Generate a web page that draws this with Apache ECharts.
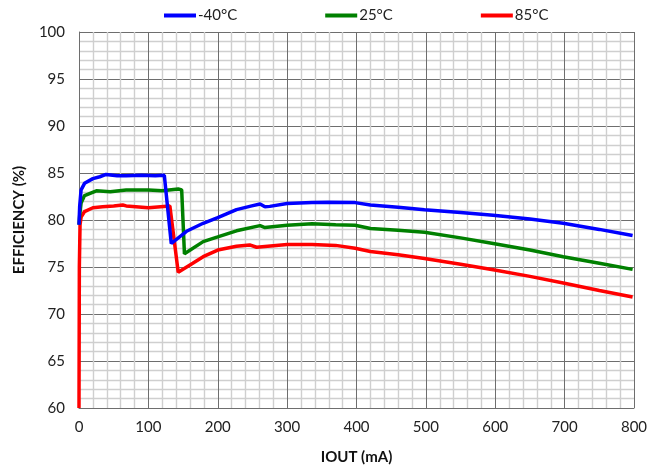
<!DOCTYPE html>
<html>
<head>
<meta charset="utf-8">
<script src="https://cdn.jsdelivr.net/npm/echarts@6/dist/echarts.min.js"></script>
<style>html,body{margin:0;padding:0;background:#fff}#c{width:659px;height:472px}</style>
</head>
<body>
<div id="c"></div>
<script>
var seriesNames = ['-40°C', '25°C', '85°C'];
var xTicks = [0, 100, 200, 300, 400, 500, 600, 700, 800];
var yTicks = [60, 65, 70, 75, 80, 85, 90, 95, 100];

var xBlue = [0, 1, 3, 8, 20, 30, 39, 55, 68, 90, 110, 123, 133, 155, 179, 200, 227, 249, 261, 268, 275, 300, 336, 359, 398, 420, 460, 498, 550, 597, 650, 698, 750, 798];
var yBlue = [79.5, 81.5, 83.2, 83.9, 84.4, 84.6, 84.85, 84.7, 84.7, 84.75, 84.7, 84.75, 77.5, 78.8, 79.65, 80.25, 81.1, 81.5, 81.7, 81.4, 81.45, 81.75, 81.85, 81.9, 81.85, 81.6, 81.35, 81.1, 80.8, 80.5, 80.1, 79.65, 79.0, 78.35];

var xGreen = [0, 1, 3, 8, 25, 45, 68, 100, 120, 143, 148, 152, 179, 200, 227, 261, 268, 300, 336, 370, 398, 420, 460, 498, 550, 597, 650, 698, 750, 798];
var yGreen = [79.5, 80.5, 81.8, 82.6, 83.1, 83.0, 83.2, 83.2, 83.1, 83.3, 83.2, 76.4, 77.7, 78.2, 78.85, 79.4, 79.2, 79.45, 79.6, 79.5, 79.45, 79.1, 78.9, 78.7, 78.1, 77.5, 76.8, 76.1, 75.4, 74.75];

var xRed = [0, 0.5, 1.5, 3, 8, 20, 34, 50, 63, 68, 70, 100, 131, 133, 143, 164, 179, 200, 227, 246, 256, 300, 336, 370, 398, 420, 460, 498, 550, 597, 650, 698, 750, 798];
var yRed = [60, 75, 79.5, 80.3, 80.9, 81.3, 81.4, 81.5, 81.6, 81.5, 81.3, 81.3, 81.5, 81.4, 74.45, 75.4, 76.1, 76.8, 77.2, 77.35, 77.1, 77.4, 77.4, 77.3, 77.0, 76.65, 76.3, 75.9, 75.3, 74.7, 74.0, 73.3, 72.5, 71.8];

var colors = ['#0000ff', '#008000', '#ff0000'];

function pairs(xs, ys) { return xs.map(function (x, i) { return [x, ys[i]]; }); }
var datasets = [pairs(xBlue, yBlue), pairs(xGreen, yGreen), pairs(xRed, yRed)];

var font = 'Lato, "Open Sans", sans-serif';
var chart = echarts.init(document.getElementById('c'));
chart.setOption({
  animation: false,
  backgroundColor: '#fff',
  textStyle: { fontFamily: font },
  legend: {
    top: 3,
    left: 159,
    itemGap: 88,
    itemWidth: 32,
    itemHeight: 4,
    icon: 'rect',
    textStyle: { fontSize: 15, color: '#222', fontFamily: font, padding: [0, 0, 0, -3] },
    data: seriesNames
  },
  grid: { left: 79, right: 25, top: 32, bottom: 64 },
  xAxis: {
    type: 'value',
    min: xTicks[0], max: xTicks[xTicks.length - 1], interval: 100,
    name: 'IOUT (mA)', nameLocation: 'middle', nameGap: 42,
    nameTextStyle: { fontSize: 15, fontWeight: 'bold', color: '#111', fontFamily: font },
    axisLine: { show: true, lineStyle: { color: '#6e6e6e', width: 1 } },
    axisTick: { show: false },
    axisLabel: { fontSize: 15, color: '#222', margin: 12, fontFamily: font },
    splitLine: { show: true, lineStyle: { color: '#6e6e6e', width: 1 } },
    minorTick: { show: false, splitNumber: 5 },
    minorSplitLine: { show: true, lineStyle: { color: '#cfcfcf', width: 1.4 } }
  },
  yAxis: {
    type: 'value',
    min: yTicks[0], max: yTicks[yTicks.length - 1], interval: 5,
    name: 'EFFICIENCY (%)', nameLocation: 'middle', nameGap: 52, nameRotate: 90,
    nameTextStyle: { fontSize: 15, fontWeight: 'bold', color: '#111', fontFamily: font },
    axisLine: { show: true, lineStyle: { color: '#6e6e6e', width: 1 } },
    axisTick: { show: false },
    axisLabel: { fontSize: 15, color: '#222', margin: 14, fontFamily: font },
    splitLine: { show: true, lineStyle: { color: '#6e6e6e', width: 1 } },
    minorTick: { show: false, splitNumber: 5 },
    minorSplitLine: { show: true, lineStyle: { color: '#cfcfcf', width: 1.4 } }
  },
  series: seriesNames.map(function (n, i) {
    return {
      name: n, type: 'line', data: datasets[i], showSymbol: false, symbol: 'none',
      lineStyle: { color: colors[i], width: 3.5 }, itemStyle: { color: colors[i] },
      z: 3 - i
    };
  })
});
</script>
</body>
</html>
